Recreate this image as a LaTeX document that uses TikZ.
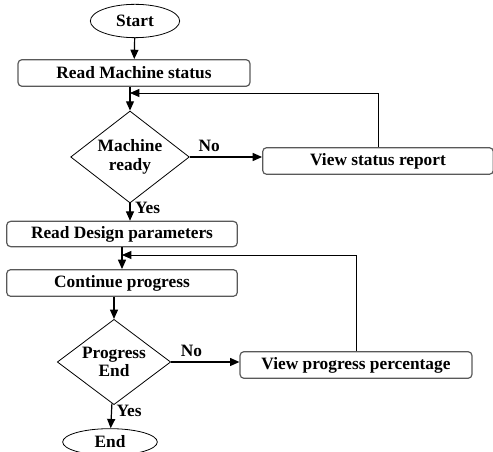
\documentclass[tikz,border=0pt]{standalone}
\usepackage{fontspec}
\setmainfont{Liberation Serif}
\usetikzlibrary{shapes.geometric}
\usetikzlibrary{arrows.meta}

\begin{document}
\begin{tikzpicture}[x=0.75pt,y=-0.75pt,
    font=\fontsize{13}{14}\selectfont\bfseries,
    caja/.style={draw=black!65, line width=0.9pt, rounded corners=3pt, inner sep=0pt, minimum height=20pt},
    term/.style={draw, ellipse, line width=0.6pt, inner sep=0pt},
    decision/.style={draw, diamond, aspect=1.3, line width=0.6pt, inner sep=0pt, align=center},
    flecha/.style={-{Triangle[length=7pt,width=6pt]}, line width=0.9pt},
    retorno/.style={flecha, line width=0.6pt}]

    \useasboundingbox (0,0) rectangle (493,452);

    % Inicio
    \node[term, minimum width=67pt, minimum height=25pt] (start) at (135,21) {Start};
    % Estado de la maquina
    \node[caja, minimum width=174pt] (readms) at (134,73) {Read Machine status};
    % Decision 1
    \node[decision, minimum width=89pt, minimum height=69pt] (ready) at (130,157) {Machine\\ready};
    % Reporte
    \node[caja, minimum width=173pt] (status) at (378,161) {View status report};
    % Parametros
    \node[caja, minimum width=173pt, minimum height=19pt] (readdp) at (122,234) {Read Design parameters};
    % Progreso
    \node[caja, minimum width=173pt] (cont) at (122,283) {Continue progress};
    % Decision 2
    \node[decision, minimum width=85pt, minimum height=64pt] (progend) at (114,362) {Progress\\End};
    % Porcentaje
    \node[caja, minimum width=174pt] (progview) at (356,365) {View progress percentage};
    % Fin
    \node[term, minimum width=71pt, minimum height=20pt] (stop) at (110,442) {End};

    % Puntos de retorno
    \coordinate (retA) at (130,93);
    \coordinate (retB) at (122,255);

    % Flechas
    \draw[flecha] (start) -- (readms);
    \draw[flecha] (readms.south -| ready) -- (ready);
    \draw[flecha] (ready.east) -- (ready.east -| status.west) node[pos=0.27, above] {No};
    \draw[retorno] (status.north) |- (retA);
    \draw[flecha] (ready) -- (ready |- readdp.north) node[pos=0.25, right] {Yes};
    \draw[flecha] (readdp) -- (cont);
    \draw[retorno] (progview.north) |- (retB);
    \draw[flecha] (cont.south -| progend) -- (progend);
    \draw[flecha] (progend.east) -- (progend.east -| progview.west) node[pos=0.3, above] {No};
    \draw[flecha] (progend) -- (stop) node[pos=0.3, right] {Yes};
\end{tikzpicture}
\end{document}
